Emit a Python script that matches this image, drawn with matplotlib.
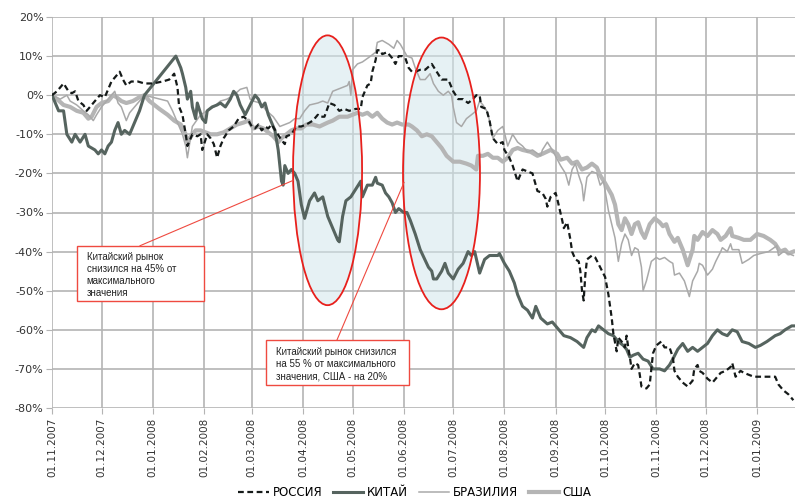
import numpy as np
import matplotlib
matplotlib.use("Agg")
import matplotlib.pyplot as plt
import matplotlib.dates as mdates
from matplotlib.patches import Ellipse, Rectangle

START = "2007-11-01"

# ---- data: day offsets from START, values in % ----
russia_days = [0,3,7,10,12,14,16,19,21,24,27,29,32,34,36,38,41,43,45,48,52,56,61,67,71,74,76,77,79,81,82,85,88,90,91,94,96,98,100,102,104,107,110,113,116,119,121,123,125,127,129,131,133,136,139,141,142,145,148,151,154,158,161,162,165,168,171,174,177,180,184,187,188,191,193,194,196,197,199,200,203,206,208,210,212,214,216,218,220,223,226,230,233,236,240,243,246,249,252,255,257,259,260,263,265,267,270,273,274,277,279,282,283,285,288,291,293,294,297,299,300,302,305,306,309,310,312,314,315,317,319,320,321,322,323,324,327,329,332,335,337,339,340,342,343,345,347,348,349,350,351,353,355,356,357,360,362,363,364,366,369,371,374,376,377,379,382,385,388,389,391,392,394,397,400,402,405,408,411,412,414,417,419,422,425,429,433,438,440,443,446,449]
russia_vals = [0,1,3,1,0.5,1,-1.5,-2.5,-4,-2.5,-1,0,-0.5,1.5,3.5,4.5,6,4,2.5,3.5,3.5,3,3,3.5,4,5.5,2,-3,-5,-10,-13,-10,-10.5,-10,-14,-10,-11,-12.5,-16,-13,-11,-9,-8,-6,-5.5,-6.5,-8,-8.5,-7.5,-9,-8,-8.5,-7.5,-9.5,-11.5,-12.5,-10.5,-10,-8,-8,-7.5,-6.5,-5,-5.5,-5.5,-2,-2.5,-4,-3.5,-4,-3.5,-3.5,-0.5,2.5,3,6,9,11.5,11.5,10.5,11,9.5,8,10,10,9.5,7,6,6,6.5,6.5,8,6,4,4,1,-1,-1,-2,-1,0,0,-3,-3.5,-6.5,-11,-12.5,-12,-14,-16,-18,-22,-21,-19,-19.5,-20,-23,-24.5,-25,-26.5,-28.5,-26,-25,-26.5,-32,-34,-32.5,-37,-40,-42,-42.5,-45,-50,-52.5,-46,-42,-41,-41.5,-44,-46.5,-51,-57,-61,-65.5,-62,-63,-64.5,-61.5,-64.5,-67,-70,-68.5,-69,-71.5,-74.5,-75,-74,-70,-66,-64,-63,-64.5,-64.5,-67,-70.5,-72,-73.5,-74.5,-73,-70,-69,-70.5,-71,-72.5,-73.5,-72.5,-71,-70.5,-69.5,-68.5,-72,-70.5,-71,-71.5,-72,-72,-72,-72,-74,-75.5,-76.5,-78]

china_days = [0,4,7,9,12,14,17,20,22,26,28,30,32,34,36,38,40,42,44,47,50,53,56,75,78,79,81,82,84,85,87,88,91,93,94,97,100,102,105,108,110,112,114,117,120,123,125,127,129,131,133,135,137,139,140,141,143,145,147,149,151,153,156,159,161,164,167,170,173,174,176,178,181,184,187,188,191,194,196,197,200,202,204,206,208,210,213,215,217,220,223,228,230,231,233,236,238,240,243,246,249,252,254,256,259,262,265,270,271,274,277,280,282,285,288,291,293,296,300,303,306,310,314,318,322,324,327,329,331,334,337,340,343,346,348,350,352,355,358,361,364,368,371,374,376,379,382,385,388,391,394,397,400,403,406,409,412,415,418,422,426,429,433,438,441,444,448,450]
china_vals = [0,-4,-4,-10,-12,-10,-12,-10,-13,-14,-15,-14,-15,-13,-12,-9,-7,-10,-9,-10,-7,-4,0,10,7,5.5,2,-1,1,-3,-6,-2,-6,-7,-4,-3,-2.5,-2,-3,-1,1,0,-2.5,-5,-2.5,0,-1,-3,-2,-5,-7,-9,-14,-22,-23,-18,-20,-19,-20,-22,-28,-31.5,-27,-25,-27,-26,-31,-34,-37,-37.5,-31,-27,-26,-24,-22,-26,-23,-23,-21,-22.5,-23,-25,-26,-27.5,-30,-29,-30,-30,-32,-35.5,-39.5,-44,-45,-47,-47,-45,-43,-45.5,-47,-44.5,-43,-40,-41,-40,-45.5,-42,-41,-41,-40.5,-43,-45,-48,-51,-54,-55,-57,-54,-57,-58.5,-58,-59.5,-61.5,-62,-63,-64.5,-62,-60,-60.5,-59,-60,-61,-61.5,-63,-64,-65,-67,-66.5,-66,-67.5,-68,-70,-70,-70.5,-69,-67.5,-65,-63.5,-65.5,-64.5,-65.5,-64.5,-63.5,-61.5,-60,-61,-61.5,-60,-60.5,-63,-63.5,-64.5,-64,-63,-61.5,-61,-60,-59,-59]

brazil_days = [0,5,9,11,15,19,22,25,27,30,33,36,38,40,42,45,47,50,53,56,70,73,76,79,81,82,85,90,94,98,102,106,110,114,118,120,122,126,130,134,138,141,144,147,150,153,156,161,164,167,170,173,176,179,180,181,182,185,188,193,196,197,200,204,207,209,211,215,218,220,223,226,229,231,234,237,240,242,243,245,248,251,254,257,259,261,264,267,270,273,274,276,279,282,285,288,291,296,297,300,303,308,311,313,315,317,319,321,322,324,327,330,332,334,337,339,341,343,345,347,349,351,353,355,357,358,360,363,366,368,371,374,376,377,380,383,386,388,391,392,394,397,400,402,405,406,409,411,412,416,418,422,425,429,434,439,440,443,446,449]
brazil_vals = [0,-1,0,-1.5,-2.5,-4,-5,-6.5,-5,-3,-1.5,0,1,-2,-3,-6.5,-4.5,-3,-1.5,0,-1.5,-4,-7,-10,-13,-16,-8,-5,-4,-3,-1.5,-1,0,1.5,2,-1,-1.5,-2,-4,-5.5,-8,-7.5,-7,-6,-6,-4,-2.5,-2,-1.5,-2,1,1.5,2,2.5,3.5,0,6.5,8,8.5,10,11,13.5,14,13,12,14,13,10,9.5,7,4,4,5.5,3,1,0,1,0,-3,-7,-8,-6,-5,-4,-1.5,-2.5,-4.5,-11,-9,-8,-9.5,-13,-10,-12,-13,-14.5,-14,-15.5,-14,-12,-14,-18,-20,-23,-19,-17.5,-20.5,-23,-27,-21,-19.5,-20,-23,-22,-29.5,-33,-36.5,-42.5,-38,-35.5,-37,-41,-39,-39.5,-44,-50,-47.5,-42.5,-41.5,-42,-41.5,-42.5,-43,-46,-45.5,-47.5,-51.5,-47.5,-45,-43,-43.5,-46,-44.5,-42.5,-40,-39,-40,-38,-39.5,-39.5,-43,-42,-41,-40.5,-40,-38.5,-41,-40,-40.5,-41]

usa_days = [0,3,7,11,15,19,22,24,27,30,34,37,39,42,45,49,53,56,59,65,70,74,78,81,82,85,87,90,93,96,100,104,108,112,116,119,122,125,128,131,134,137,139,142,145,148,151,154,158,162,167,170,174,179,182,185,188,191,194,197,200,203,206,209,212,216,218,221,224,227,230,233,236,239,243,247,251,254,257,258,261,264,267,270,273,276,279,282,285,290,294,297,302,306,308,312,315,318,321,324,327,330,332,335,337,339,341,343,345,347,349,351,353,355,357,359,362,365,368,370,372,374,377,379,382,385,388,389,391,394,397,400,403,405,408,411,412,416,419,423,427,431,435,438,441,444,446,449]
usa_vals = [0,-1,-2.5,-3,-4,-4.5,-6,-5.5,-3,-2,-1.5,0,-0.5,-1.5,-2,-1.5,-0.5,0,-1.5,-3.5,-5,-6.5,-7.5,-10,-12,-10,-9,-9,-9.5,-10,-10,-9.5,-8.5,-7.5,-7,-6.5,-8.5,-8,-8.5,-9.5,-10.5,-12,-11,-10,-9,-8.5,-8.5,-7.5,-7.5,-8,-7,-6.5,-5.5,-5.5,-5,-4.5,-5,-4.5,-5.5,-4.5,-6,-7,-7.5,-7,-7.5,-7.5,-8,-9,-10.5,-10,-10.5,-12,-13.5,-15.5,-17,-17,-17.5,-18,-19,-15.5,-15.5,-15,-16,-16,-17,-16,-14,-13.5,-14,-14.5,-15.5,-15,-14,-15,-16.5,-16,-17.5,-17,-19,-18.5,-17.5,-18.5,-20.5,-22.5,-24,-25.5,-28,-33,-34.5,-31.5,-33,-35.5,-33,-32.5,-35,-36.5,-33,-31.5,-32.5,-33.5,-33,-35.5,-37.5,-36.5,-39.5,-43.5,-39.5,-36,-37,-35,-36,-34.5,-35.5,-37,-36,-34,-36,-36.5,-37,-37,-35.5,-36,-37,-38,-40,-39.5,-40.5,-40]

series_names = ["РОССИЯ", "КИТАЙ", "БРАЗИЛИЯ", "США"]
note1 = "Китайский рынок\nснизился на 45% от\nмаксимального\nзначения"
note2 = "Китайский рынок снизился\nна 55 % от максимального\nзначения, США - на 20%"

# ---- figure ----
fig = plt.figure(figsize=(7.95, 5.04), dpi=100)
ax = fig.add_axes([52/795, 1-408/504, 1-52/795, (408-17)/504])

t0 = mdates.date2num(np.datetime64(START))
def X(days):
    return t0 + np.asarray(days, dtype=float)

grid_c = "#b4b4b4"
h_usa, = ax.plot(X(usa_days), usa_vals, color="#b5b5b5", lw=3.0, zorder=3, label=series_names[3], solid_joinstyle="round")
h_bra, = ax.plot(X(brazil_days), brazil_vals, color="#a9a9a9", lw=1.1, zorder=4, label=series_names[2])
h_chi, = ax.plot(X(china_days), china_vals, color="#56645f", lw=2.2, zorder=5, label=series_names[1], solid_joinstyle="round")
h_rus, = ax.plot(X(russia_days), russia_vals, color="#151a19", lw=1.6, ls=(0, (2.6, 1.6)), zorder=6, label=series_names[0])

# ellipses
for cx, cy, w, h in [(166.9, -19.2, 41.8, 69.0), (235.9, -20.0, 46.6, 69.5)]:
    ax.add_patch(Ellipse((t0 + cx, cy), w, h, facecolor="#d3e7ec", alpha=0.55, edgecolor="none", zorder=1))
    ax.add_patch(Ellipse((t0 + cx, cy), w, h, facecolor="none", edgecolor="#e8201c", lw=1.3, zorder=8))

# annotation lines
ax.plot(X([53.3, 146.0]), [-38.5, -21.8], color="#ef4a40", lw=0.8, zorder=8)
ax.plot(X([172.6, 213.2]), [-62.6, -22.3], color="#ef4a40", lw=0.8, zorder=8)

# annotation boxes
ax.add_patch(Rectangle((t0 + 15.1, -52.6), 77.0, 14.1, facecolor="white", edgecolor="#ef4a40", lw=1.0, zorder=9))
ax.text(t0 + 21.0, -40.2, note1, fontsize=7, family=["Liberation Sans", "DejaVu Sans"], color="#222222",
        va="top", ha="left", linespacing=1.25, zorder=10)
ax.add_patch(Rectangle((t0 + 129.6, -74.1), 86.6, 11.5, facecolor="white", edgecolor="#ef4a40", lw=1.0, zorder=9))
ax.text(t0 + 135.7, -64.4, note2, fontsize=7, family=["Liberation Sans", "DejaVu Sans"], color="#222222",
        va="top", ha="left", linespacing=1.25, zorder=10)

# axes styling
ax.set_xlim(t0, t0 + 450)
ax.set_ylim(-80, 20)
ax.set_yticks(np.arange(-80, 21, 10))
ax.set_yticklabels([f"{v}%" for v in range(-80, 21, 10)])
ax.xaxis.set_major_locator(mdates.MonthLocator())
ax.xaxis.set_major_formatter(mdates.DateFormatter("%d.%m.%Y"))
for lab in ax.get_xticklabels():
    lab.set_rotation(90)
ax.tick_params(axis="x", labelsize=7.5, colors="#333333", length=4, color=grid_c, pad=3)
ax.tick_params(axis="y", labelsize=8, colors="#333333", length=4, color=grid_c, pad=2)
for lab in ax.get_xticklabels() + ax.get_yticklabels():
    lab.set_color("#333333")
ax.grid(True, color=grid_c, lw=1.2, zorder=0)
ax.set_axisbelow(True)
for s in ax.spines.values():
    s.set_visible(False)

leg = fig.legend([h_rus, h_chi, h_bra, h_usa], series_names, loc="center", bbox_to_anchor=(0.522, 0.022),
                 ncol=4, frameon=False,
                 prop={"family": ["Liberation Sans Narrow", "DejaVu Sans"], "size": 8.5},
                 handlelength=2.6, columnspacing=0.9, handletextpad=0.3)

fig.savefig("out.png", dpi=100)
